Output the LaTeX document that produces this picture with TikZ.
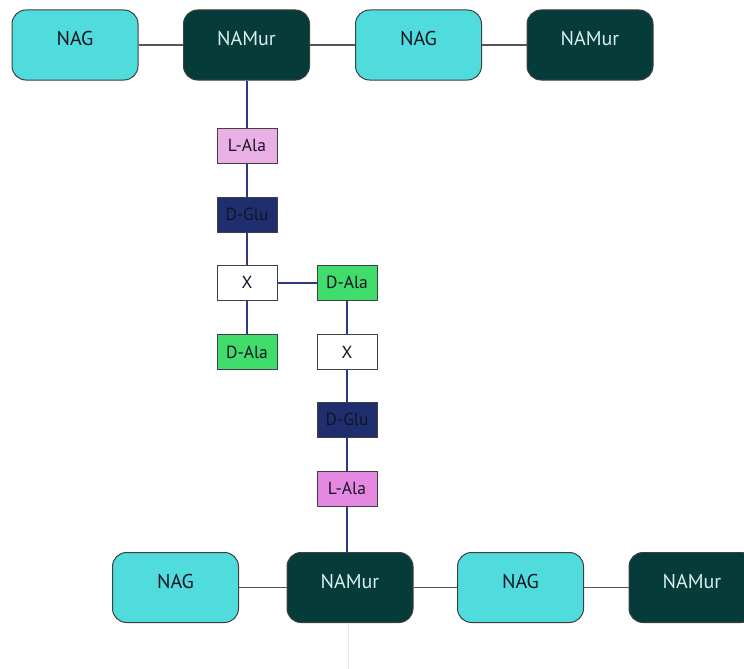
\documentclass[tikz,border=0pt]{standalone}
\usepackage{fontspec}
\setmainfont{PT Sans}
\definecolor{nagc}{HTML}{50DCDC}
\definecolor{namc}{HTML}{053B39}
\definecolor{namtxt}{HTML}{D8F0EC}
\definecolor{lala1}{HTML}{E8B0E4}
\definecolor{lala2}{HTML}{E488E2}
\definecolor{dglu}{HTML}{1F2E6E}
\definecolor{dala}{HTML}{40DC6C}
\definecolor{navyline}{HTML}{2C3A86}
\definecolor{grayline}{HTML}{555555}
\definecolor{boxtxt}{HTML}{141424}
\begin{document}
\begin{tikzpicture}[x=1pt,y=-1pt,
  sugar/.style={draw=black!75, line width=1pt, rounded corners=14pt, minimum width=126pt, minimum height=70pt, inner sep=0pt, text height=14pt, text depth=12pt, font=\fontsize{20}{24}\selectfont},
  nagbox/.style={sugar, fill=nagc, text=boxtxt},
  nambox/.style={sugar, fill=namc, text=namtxt},
  aa/.style={draw=black!75, line width=1pt, minimum width=60pt, minimum height=35pt, inner sep=0pt, font=\fontsize{17.5}{20}\selectfont, text=boxtxt},
  glink/.style={draw=grayline, line width=1.5pt},
  plink/.style={draw=navyline, line width=2pt}
]
\useasboundingbox (0,0) rectangle (744,669);
\clip (0,0) rectangle (744,669);
\fill[white] (0,0) rectangle (744,669);
% faint trace
\draw[black!10, line width=0.8pt] (348,622) -- (348,669);
% top row
\node[nagbox] (nag1) at (75,45) {NAG};
\node[nambox] (nam1) at (246.5,45) {NAMur};
\node[nagbox] (nag2) at (418.5,45) {NAG};
\node[nambox] (nam2) at (590,45) {NAMur};
% left stem
\node[aa, fill=lala1] (la1) at (247,145.5) {L-Ala};
\node[aa, fill=dglu] (dg1) at (247,214.5) {D-Glu};
\node[aa, fill=white] (x1) at (247,282.5) {X};
\node[aa, fill=dala] (da1) at (247,352) {D-Ala};
% right stem
\node[aa, fill=dala] (da2) at (347,282.5) {D-Ala};
\node[aa, fill=white] (x2) at (347,352) {X};
\node[aa, fill=dglu] (dg2) at (347,419.5) {D-Glu};
\node[aa, fill=lala2] (la2) at (347,488.5) {L-Ala};
% bottom row
\node[nagbox] (nag3) at (175.5,587.5) {NAG};
\node[nambox] (nam3) at (350,587.5) {NAMur};
\node[nagbox] (nag4) at (520.5,587.5) {NAG};
\node[nambox] (nam4) at (692,587.5) {NAMur};
% glycan links
\draw[glink] (nag1) -- (nam1);
\draw[glink] (nam1) -- (nag2);
\draw[glink] (nag2) -- (nam2);
\draw[glink] (nag3) -- (nam3);
\draw[glink] (nam3) -- (nag4);
\draw[glink] (nag4) -- (nam4);
% peptide links
\draw[plink] (nam1.south -| la1) -- (la1);
\draw[plink] (la1) -- (dg1);
\draw[plink] (dg1) -- (x1);
\draw[plink] (x1) -- (da1);
\draw[plink] (x1) -- (da2);
\draw[plink] (da2) -- (x2);
\draw[plink] (x2) -- (dg2);
\draw[plink] (dg2) -- (la2);
\draw[plink] (la2) -- (la2 |- nam3.north);
\end{tikzpicture}
\end{document}
